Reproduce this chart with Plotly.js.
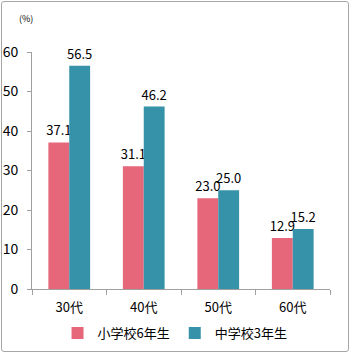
<!DOCTYPE html>
<html><head><meta charset="utf-8">
<script src="https://cdn.plot.ly/plotly-3.0.1.min.js"></script>
<style>
html,body{margin:0;padding:0;background:#fff;}
#wrap{position:absolute;left:0;top:0;width:351px;height:353px;}
#frame{position:absolute;left:1px;top:1px;width:346px;height:349px;border:1px solid #a6a6a6;border-radius:3px;pointer-events:none;}
</style></head>
<body>
<div id="wrap"><div id="chart"></div><div id="frame"></div></div>
<script>
const categories = ["30代", "40代", "50代", "60代"];
const seriesNames = ["小学校6年生", "中学校3年生"];
const elementary6 = [37.1, 31.1, 23.0, 12.9];
const juniorHigh3 = [56.5, 46.2, 25.0, 15.2];
const yTicks = [0, 10, 20, 30, 40, 50, 60];

const font = "'Noto Sans CJK JP', 'Noto Sans', sans-serif";
function mk(name, vals, color){
  return {type:"bar", name:name, x:categories, y:vals,
    marker:{color:color, line:{width:0}},
    text:vals.map(v=>v.toFixed(1)), textposition:"outside", constraintext:"none",
    textfont:{family:font, size:13, color:"#000"}, cliponaxis:false};
}
const data = [mk(seriesNames[0], elementary6, "#e6667a"), mk(seriesNames[1], juniorHigh3, "#3592a9")];
const layout = {
  width:351, height:353,
  margin:{l:32, r:21, t:52, b:64, autoexpand:false},
  paper_bgcolor:"#fff", plot_bgcolor:"#fff",
  barmode:"group", bargap:0.44, bargroupgap:0,
  showlegend:true,
  legend:{orientation:"h", x:0.48, xanchor:"center", y:-0.186, yanchor:"middle",
    font:{family:font, size:13, color:"#000"}, itemwidth:30, tracegroupgap:0},
  font:{family:font, color:"#000"},
  xaxis:{type:"category", showline:true, linecolor:"#a0a0a0", linewidth:1,
    ticks:"outside", tickson:"boundaries", ticklen:5, tickcolor:"#a0a0a0", ticklabelstandoff:6,
    tickfont:{family:font, size:13, color:"#000"}, showgrid:false, zeroline:false, automargin:false},
  yaxis:{range:[0,60], tickvals:yTicks, showline:true, linecolor:"#a0a0a0", linewidth:1,
    ticks:"outside", ticklen:4, tickcolor:"#a0a0a0", showgrid:false, zeroline:false, automargin:false,
    ticklabelstandoff:6, tickfont:{family:font, size:14, color:"#000"}},
  annotations:[{text:"(%)", xref:"paper", yref:"paper", x:-0.05, y:1.14, xanchor:"left", yanchor:"middle",
    showarrow:false, font:{family:font, size:9, color:"#000"}}]
};
Plotly.newPlot("chart", data, layout, {displayModeBar:false, staticPlot:true});
</script>
</body></html>
